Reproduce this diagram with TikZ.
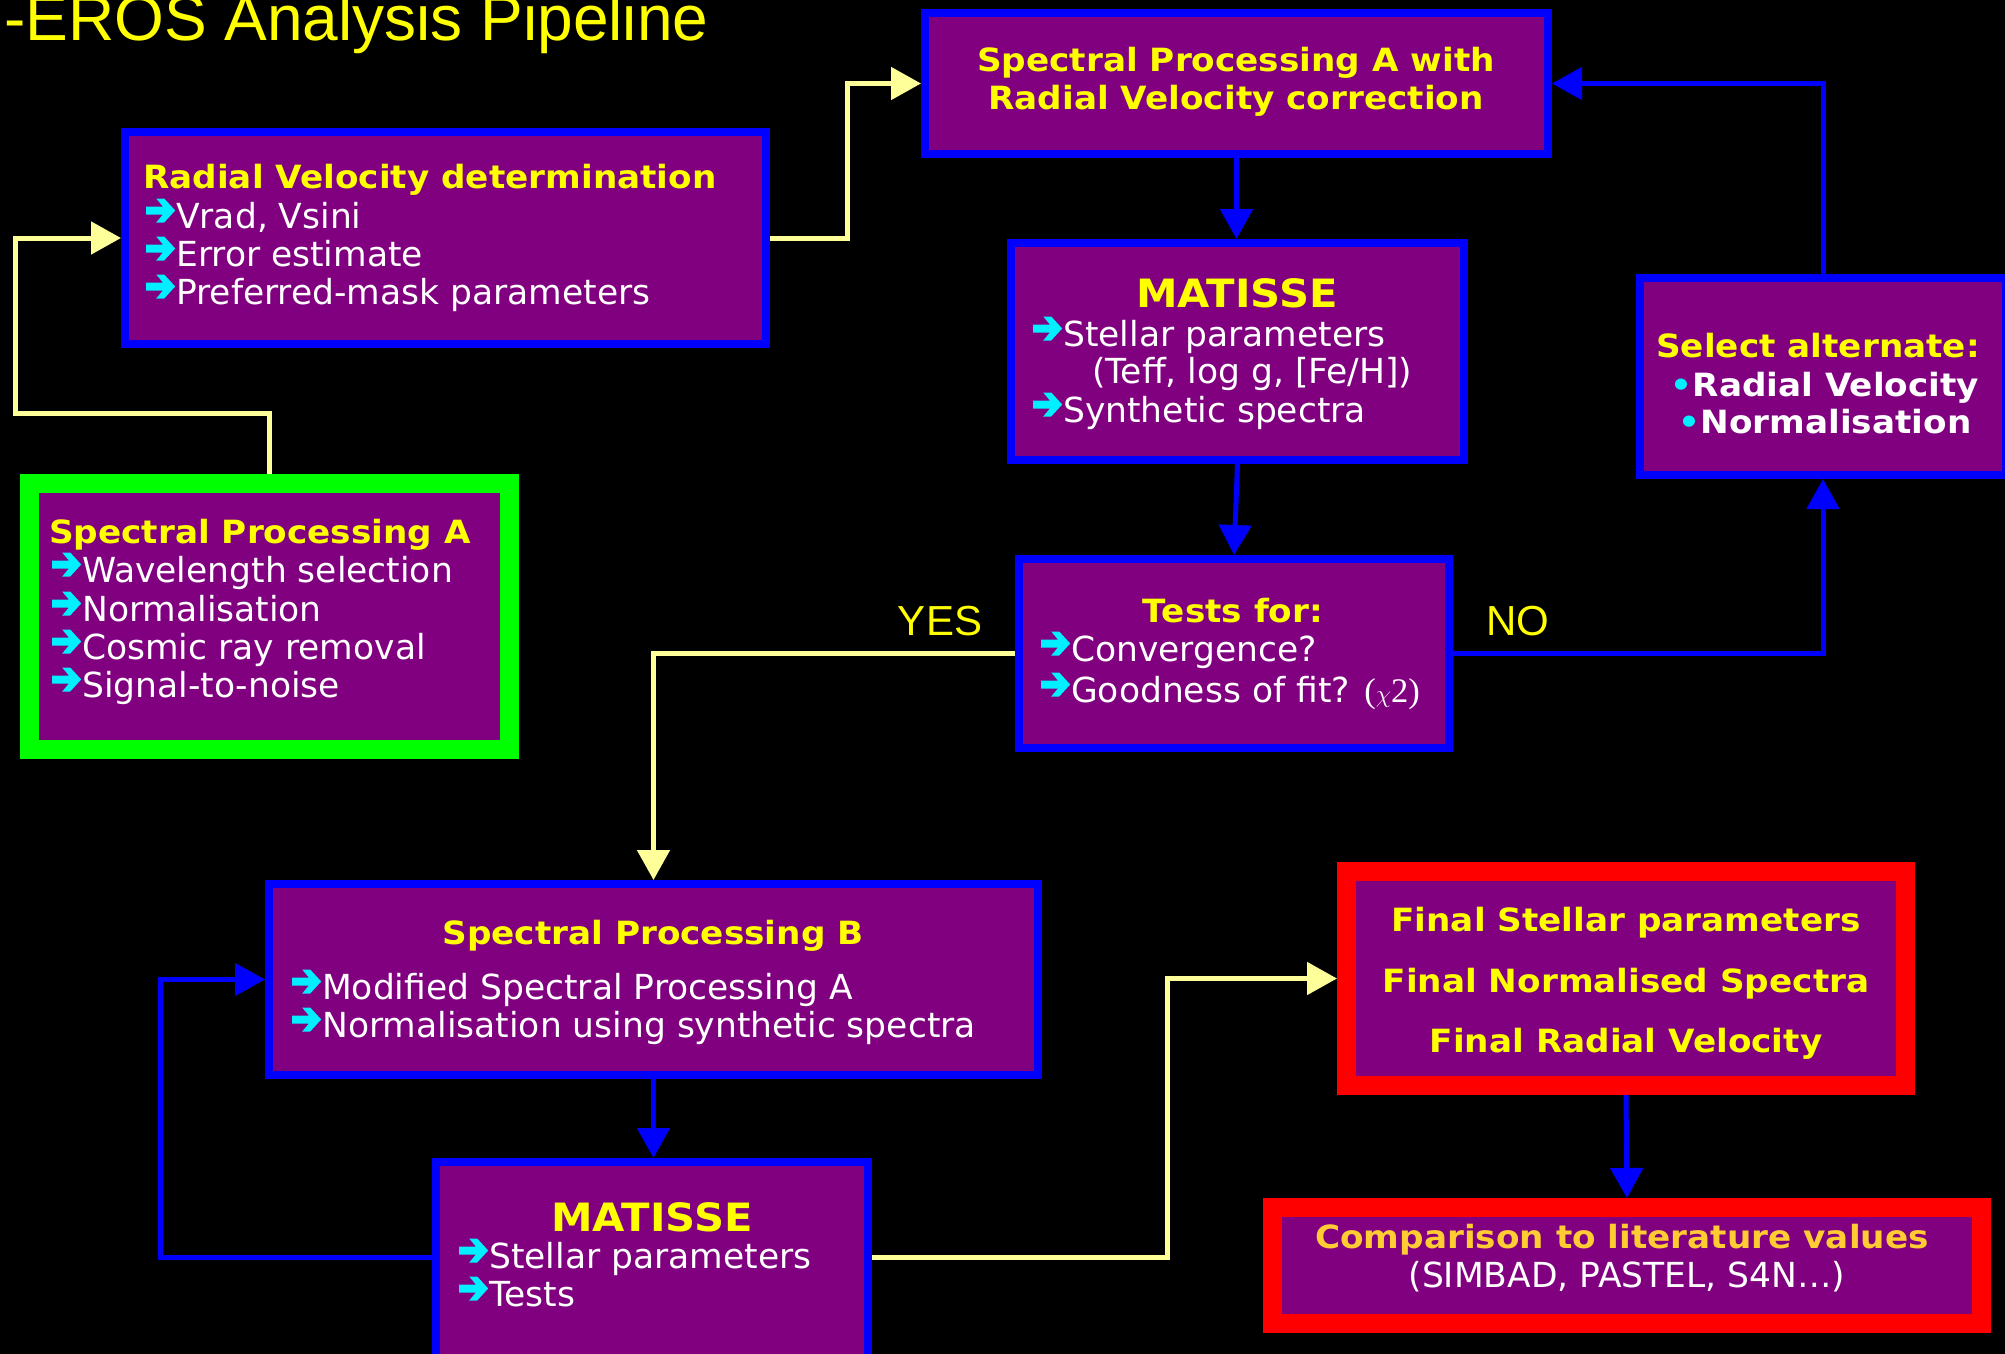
\documentclass[tikz,border=0pt]{standalone}
\usepackage{fontspec}
\setmainfont{DejaVu Sans}[BoldFeatures={FakeStretch=1.07}]
\newfontfamily\titlefont{Liberation Sans}
\newfontfamily\serifgr{Liberation Serif}
\usetikzlibrary{arrows.meta}
\definecolor{pbox}{HTML}{800080}
\definecolor{bblue}{HTML}{0000FF}
\definecolor{ggreen}{HTML}{00FF00}
\definecolor{rred}{HTML}{FF0000}
\definecolor{ytext}{HTML}{FFFF00}
\definecolor{cyel}{HTML}{FFFF99}
\definecolor{acyan}{HTML}{00F0FF}
\definecolor{gold}{HTML}{FFCC33}
\newcommand\arr{\tikz[baseline=0pt,x=1pt,y=1pt]{\useasboundingbox (0,0) rectangle (31,20);
  \fill[acyan] (1,13.5) -- (17.7,13.5) -- (11,5.5) -- (19,5.5) -- (30,17.5) -- (19,29.5) -- (11,29.5) -- (17.7,21.5) -- (1,21.5) -- cycle;}}
\newcommand\bul{{\color{acyan}•}}
\begin{document}
\begin{tikzpicture}[x=1pt,y=-1pt,
  bluebox/.style={draw=bblue, line width=8pt, fill=pbox, inner sep=0pt},
  greenbox/.style={bluebox, draw=ggreen, line width=19pt},
  redbox/.style={bluebox, draw=rred, line width=19pt},
  tx/.style={inner sep=0pt, anchor=base west, text=white, font=\fontsize{34.5}{40}\selectfont},
  hd/.style={inner sep=0pt, anchor=base, text=ytext, font=\fontsize{32}{38}\selectfont\bfseries},
  hdl/.style={hd, anchor=base west},
  big/.style={hd, font=\fontsize{39}{44}\selectfont\bfseries},
  lbl/.style={inner sep=0pt, anchor=base, text=ytext, font=\titlefont\fontsize{42}{48}\selectfont},
  tipa/.tip={Triangle[length=30pt,width=32pt]},
  yline/.style={draw=cyel, line width=5pt, -tipa},
  bline/.style={draw=bblue, line width=5pt, -tipa}]
\fill[black] (0,0) rectangle (2005,1354);
\useasboundingbox (0,0) rectangle (2005,1354);
\clip (0,0) rectangle (2005,1354);

% title
\node[inner sep=0pt, anchor=base west, text=ytext, font=\titlefont\fontsize{64}{70}\selectfont] (title) at (4,41) {-EROS Analysis Pipeline};

% boxes
\node[bluebox, minimum width=641, minimum height=212] (rv) at (445.5,238) {};
\node[bluebox, minimum width=623, minimum height=141] (spa2) at (1236.5,83.5) {};
\node[bluebox, minimum width=453, minimum height=217] (mat1) at (1237.5,351.5) {};
\node[bluebox, minimum width=366, minimum height=197] (sel) at (1823,376.5) {};
\node[bluebox, minimum width=430, minimum height=189] (tests) at (1234,653.5) {};
\node[greenbox, minimum width=480, minimum height=266] (spa) at (269.5,616.5) {};
\node[bluebox, minimum width=769, minimum height=191] (spb) at (653.5,979.5) {};
\node[bluebox, minimum width=432, minimum height=234] (mat2) at (652,1279) {};
\node[redbox, minimum width=559, minimum height=214] (fin) at (1626,978.5) {};
\node[redbox, minimum width=709, minimum height=116] (comp) at (1627,1265.5) {};

% connectors
\draw[yline] (spa.north) -- (269.5,413) -- (15,413) -- (15,238) -- (rv.west);
\draw[yline] (rv.east) -- (847,238) -- (847,83.5) -- (spa2.west);
\draw[bline] (spa2.south) -- (spa2.south |- mat1.north);
\draw[bline] (mat1.south) -- (tests.north);
\draw[yline] (tests.west) -| (spb.north);
\draw[bline] (tests.east) -| (sel.south);
\draw[bline] (sel.north) |- (spa2.east);
\draw[bline] (spb.south) -- (spb.south |- mat2.north);
\draw[bline] ([yshift=22pt]mat2.west) -- (160,1257) -- (160,979.5) -- (spb.west);
\draw[yline] ([yshift=22pt]mat2.east) -- (1167,1257) -- (1167,978.5) -- (fin.west);
\draw[bline] (fin.south) -- (comp.north);

\node[lbl] (yes) at (940,635) {YES};
\node[lbl] (no) at (1518,635) {NO};

% Radial velocity box
\node[hdl] (rvt) at (143,188) {Radial Velocity determination};
\node[tx] (rv1) at (145,228) {\arr Vrad, Vsini};
\node[tx] (rv2) at (145,266) {\arr Error estimate};
\node[tx] (rv3) at (145,304) {\arr Preferred-mask parameters};

% Spectral processing A with RV
\node[hd] (s2a) at (1236,72) {Spectral Processing A with};
\node[hd] (s2b) at (1236,109) {Radial Velocity correction};

% MATISSE 1
\node[big] (m1t) at (1237,307) {MATISSE};
\node[tx] (m11) at (1032,346) {\arr Stellar parameters};
\node[tx] (m12) at (1092,383) {(Teff, log g, [Fe/H])};
\node[tx] (m13) at (1032,422) {\arr Synthetic spectra};

% Select alternate
\node[hd] (slt) at (1818,357) {Select alternate:};
\node[hd, text=white] (sl1) at (1825,396) {\bul Radial Velocity};
\node[hd, text=white] (sl2) at (1825,433) {\bul Normalisation};

% Tests
\node[hd] (tt) at (1233,622) {Tests for:};
\node[tx] (t1) at (1040,661) {\arr Convergence?};
\node[tx] (t2) at (1040,702) {\arr Goodness of fit? {\serifgr(}$\chi${\serifgr 2)}};

% Spectral processing A
\node[hdl] (spat) at (49,543) {Spectral Processing A};
\node[tx] (spa1) at (51,582) {\arr Wavelength selection};
\node[tx] (spa2t) at (51,621) {\arr Normalisation};
\node[tx] (spa3) at (51,659) {\arr Cosmic ray removal};
\node[tx] (spa4) at (51,697) {\arr Signal-to-noise};

% Spectral processing B
\node[hd] (spbt) at (653,944) {Spectral Processing B};
\node[tx] (spb1) at (291,999) {\arr Modified Spectral Processing A};
\node[tx] (spb2) at (291,1037) {\arr Normalisation using synthetic spectra};

% MATISSE 2
\node[big] (m2t) at (652,1231) {MATISSE};
\node[tx] (m21) at (458,1268) {\arr Stellar parameters};
\node[tx] (m22) at (458,1306) {\arr Tests};

% Final
\node[hd] (f1) at (1626,931) {Final Stellar parameters};
\node[hd] (f2) at (1626,992) {Final Normalised Spectra};
\node[hd] (f3) at (1626,1052) {Final Radial Velocity};

% Comparison
\node[hd, text=gold] (c1) at (1622,1248) {Comparison to literature values};
\node[tx, anchor=base] (c2) at (1627,1287) {(SIMBAD, PASTEL, S4N…)};
\end{tikzpicture}
\end{document}
